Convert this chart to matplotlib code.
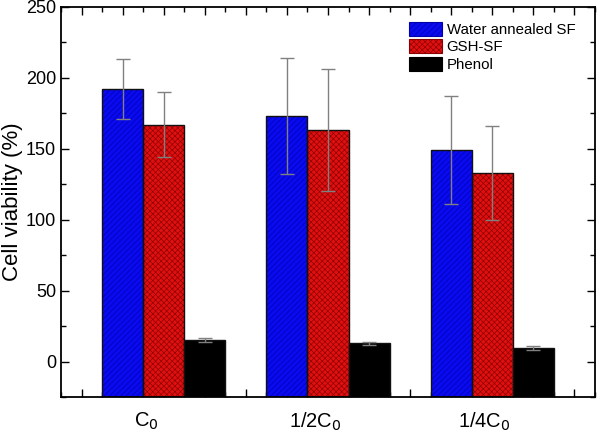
import numpy as np
import matplotlib
matplotlib.use('Agg')
from matplotlib import pyplot as plt
from matplotlib.ticker import MultipleLocator
from matplotlib.transforms import blended_transform_factory

plt.rcParams['font.family'] = ['Liberation Sans', 'DejaVu Sans']
plt.rcParams['hatch.linewidth'] = 0.45

groups = ['C$_0$', '1/2C$_0$', '1/4C$_0$']
series = ['Water annealed SF', 'GSH-SF', 'Phenol']
water = [192, 173, 149]
water_err = [21, 41, 38]
gsh = [167, 163, 133]
gsh_err = [23, 43, 33]
phenol = [15, 13, 9.5]
phenol_err = [1.3, 1.0, 1.5]

ymin = -25
fig = plt.figure(figsize=(5.98, 4.33), dpi=100)
ax = fig.add_axes([0.102, 0.083, 0.893, 0.901])

centers = np.array([2.5, 6.5, 10.5])
w = 1.0
styles = [('#0a0af0', '#0000a8', '//////'),
          ('#e01010', '#8a0000', 'xxxxxx'),
          ('#000000', '#000000', None)]
vals = [water, gsh, phenol]
errs = [water_err, gsh_err, phenol_err]
for i, (fc, hc, hatch) in enumerate(styles):
    x = centers + (i - 1) * w
    heights = np.array(vals[i]) - ymin
    ax.bar(x, heights, bottom=ymin, width=w, color=fc, edgecolor=hc, hatch=hatch,
           linewidth=0, label=series[i], zorder=2)
    # black outline on top of the hatch colour
    ax.bar(x, heights, bottom=ymin, width=w, fill=False, edgecolor='#111111',
           linewidth=1.0, zorder=3)
    ax.errorbar(x, vals[i], yerr=errs[i], fmt='none', ecolor='#808080',
                elinewidth=1.0, capsize=5, capthick=1.0, zorder=4)

ax.set_xlim(0, 13)
ax.set_ylim(ymin, 250)
ax.set_ylabel('Cell viability (%)', fontsize=16)
ax.yaxis.set_label_coords(-0.072, 0.5)

# ticks at every bar centre, group names sit a little left of the group centre
ax.set_xticks(np.arange(0.5, 13, 1.0))
ax.set_xticklabels([])
trans = blended_transform_factory(ax.transData, ax.transAxes)
for c, g, sh in zip(centers, groups, [-0.42, -0.32, -0.2]):
    ax.text(c + sh, -0.035, g, transform=trans, ha='center', va='top', fontsize=14.5)

ax.xaxis.set_minor_locator(MultipleLocator(1.0))
ax.yaxis.set_major_locator(MultipleLocator(50))
ax.yaxis.set_minor_locator(MultipleLocator(25))
ax.tick_params(axis='both', which='both', direction='in', top=True, right=True)
ax.tick_params(axis='both', which='major', length=6, width=1.0)
ax.tick_params(axis='both', which='minor', length=3.5, width=1.0)
ax.tick_params(axis='y', labelsize=13)
for s in ax.spines.values():
    s.set_linewidth(1.3)
    s.set_zorder(5)

handles = [plt.Rectangle((0, 0), 1, 1, facecolor=fc, edgecolor=hc, hatch=hatch, linewidth=0.8)
           for fc, hc, hatch in styles]
ax.legend(handles, series, loc='upper left', frameon=False, fontsize=10.8,
          handlelength=2.2, handleheight=1.05, handletextpad=0.3, labelspacing=0.17,
          borderaxespad=0.0, borderpad=0.0, bbox_to_anchor=(0.652, 0.962))

fig.savefig('out.png', dpi=100)
